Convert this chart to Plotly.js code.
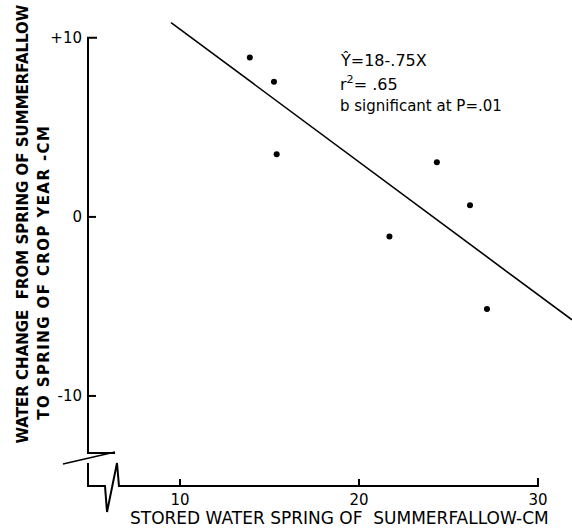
<!DOCTYPE html>
<html>
<head>
<meta charset="utf-8">
<script src="https://cdn.plot.ly/plotly-3.0.1.min.js"></script>
<style>
html,body{margin:0;padding:0;background:#fff;}
g.annotation[data-index="2"] text.annotation-text{letter-spacing:1.4px;}
</style>
</head>
<body>
<div id="chart" style="width:572px;height:528px;"></div>
<script>
// Data
const storedWater = [13.9, 15.25, 15.4, 21.7, 24.35, 26.2, 27.15];
const waterChange = [8.9, 7.55, 3.5, -1.1, 3.05, 0.65, -5.15];
// Regression line Y = 18 - .75X (end points)
const lineX = [9.5, 31.9];
const lineY = [10.85, -5.75];
const xTickVals = [10, 20, 30];
const xTickText = ['10', '20', '30'];
const yTickVals = [10, 0, -10];
const yTickText = ['+10', '0', '-10'];

const ML = 88, MR = 0, MT = 11, MB = 42, WID = 572, HEI = 528;
const PW = WID - ML - MR, PH = HEI - MT - MB;
const XR = [4.86, 31.9], YR = [-15.03, 11.5];
const px = v => (v - ML) / PW;
const py = v => 1 - (v - MT) / PH;
const xPix = v => ML + (v - XR[0]) / (XR[1] - XR[0]) * PW;
const yPix = v => MT + (YR[1] - v) / (YR[1] - YR[0]) * PH;
function path(pts) {
  return pts.map((p, i) => (i ? 'L' : 'M') + px(p[0]).toFixed(4) + ',' + py(p[1]).toFixed(4)).join(' ');
}
const axStyle = {color: '#000', width: 2};
const tickStyle = {color: '#000', width: 2};
const shapes = [
  {type: 'path', xref: 'paper', yref: 'paper', line: axStyle,
   path: path([[97, yPix(10)], [88, yPix(10)], [88, 453], [115, 453]])},
  {type: 'path', xref: 'paper', yref: 'paper', line: {color: '#000', width: 1.5},
   path: path([[63, 464], [115, 452]])},
  {type: 'path', xref: 'paper', yref: 'paper', line: axStyle,
   path: path([[88, 463], [88, 486], [105, 486], [107, 512], [117, 463], [119, 486], [xPix(30), 486], [xPix(30), 478]])}
];
// tick marks (inside)
yTickVals.slice(1).forEach(v => shapes.push({type: 'path', xref: 'paper', yref: 'paper',
  line: tickStyle, path: path([[88, yPix(v)], [96, yPix(v)]])}));
xTickVals.slice(0, 2).forEach(v => shapes.push({type: 'path', xref: 'paper', yref: 'paper',
  line: tickStyle, path: path([[xPix(v), 486], [xPix(v), 479]])}));

const font = 'DejaVu Sans, sans-serif';
const traces = [
  {x: lineX, y: lineY, mode: 'lines', line: {color: '#000', width: 1.6}, hoverinfo: 'skip', showlegend: false},
  {x: storedWater, y: waterChange, mode: 'markers', marker: {color: '#000', size: 6}, showlegend: false}
];

const layout = {
  width: WID, height: HEI,
  margin: {l: ML, r: MR, t: MT, b: MB, pad: 0},
  paper_bgcolor: '#fff', plot_bgcolor: '#fff',
  showlegend: false,
  font: {family: font, color: '#000'},
  xaxis: {
    range: XR, showgrid: false, zeroline: false, showline: false,
    ticks: '', tickvals: xTickVals, ticktext: xTickText, ticklabelstandoff: 3,
    tickfont: {family: font, size: 15, color: '#000'}
  },
  yaxis: {
    range: YR, showgrid: false, zeroline: false, showline: false,
    ticks: '', tickvals: yTickVals, ticktext: yTickText, ticklabelstandoff: 5,
    tickfont: {family: font, size: 15, color: '#000'}
  },
  shapes: shapes,
  annotations: [
    {text: 'STORED WATER SPRING OF  SUMMERFALLOW-CM', xref: 'paper', yref: 'paper',
     x: px(339), y: py(518), xanchor: 'center', yanchor: 'middle', showarrow: false,
     font: {family: font, size: 17, color: '#000'}},
    {text: 'WATER CHANGE  FROM SPRING OF SUMMERFALLOW', xref: 'paper', yref: 'paper',
     x: px(22), y: py(446), xanchor: 'center', yanchor: 'bottom', textangle: -90, showarrow: false,
     font: {family: font, size: 15, color: '#000', weight: 'bold'}},
    {text: 'TO SPRING OF CROP YEAR -CM', xref: 'paper', yref: 'paper',
     x: px(43), y: py(404), xanchor: 'center', yanchor: 'bottom', textangle: -90, showarrow: false,
     font: {family: font, size: 15, color: '#000', weight: 'bold'}},
    {text: 'Ŷ=18-.75X', xref: 'paper', yref: 'paper', x: px(338), y: py(60),
     xanchor: 'left', yanchor: 'middle', showarrow: false, font: {family: font, size: 16, color: '#000'}},
    {text: 'r<sup>2</sup>= .65', xref: 'paper', yref: 'paper', x: px(338), y: py(84),
     xanchor: 'left', yanchor: 'middle', showarrow: false, font: {family: font, size: 16, color: '#000'}},
    {text: 'b significant at P=.01', xref: 'paper', yref: 'paper', x: px(338), y: py(106),
     xanchor: 'left', yanchor: 'middle', showarrow: false, font: {family: font, size: 15, color: '#000'}}
  ]
};

Plotly.newPlot('chart', traces, layout, {staticPlot: true, displayModeBar: false});
</script>
</body>
</html>
